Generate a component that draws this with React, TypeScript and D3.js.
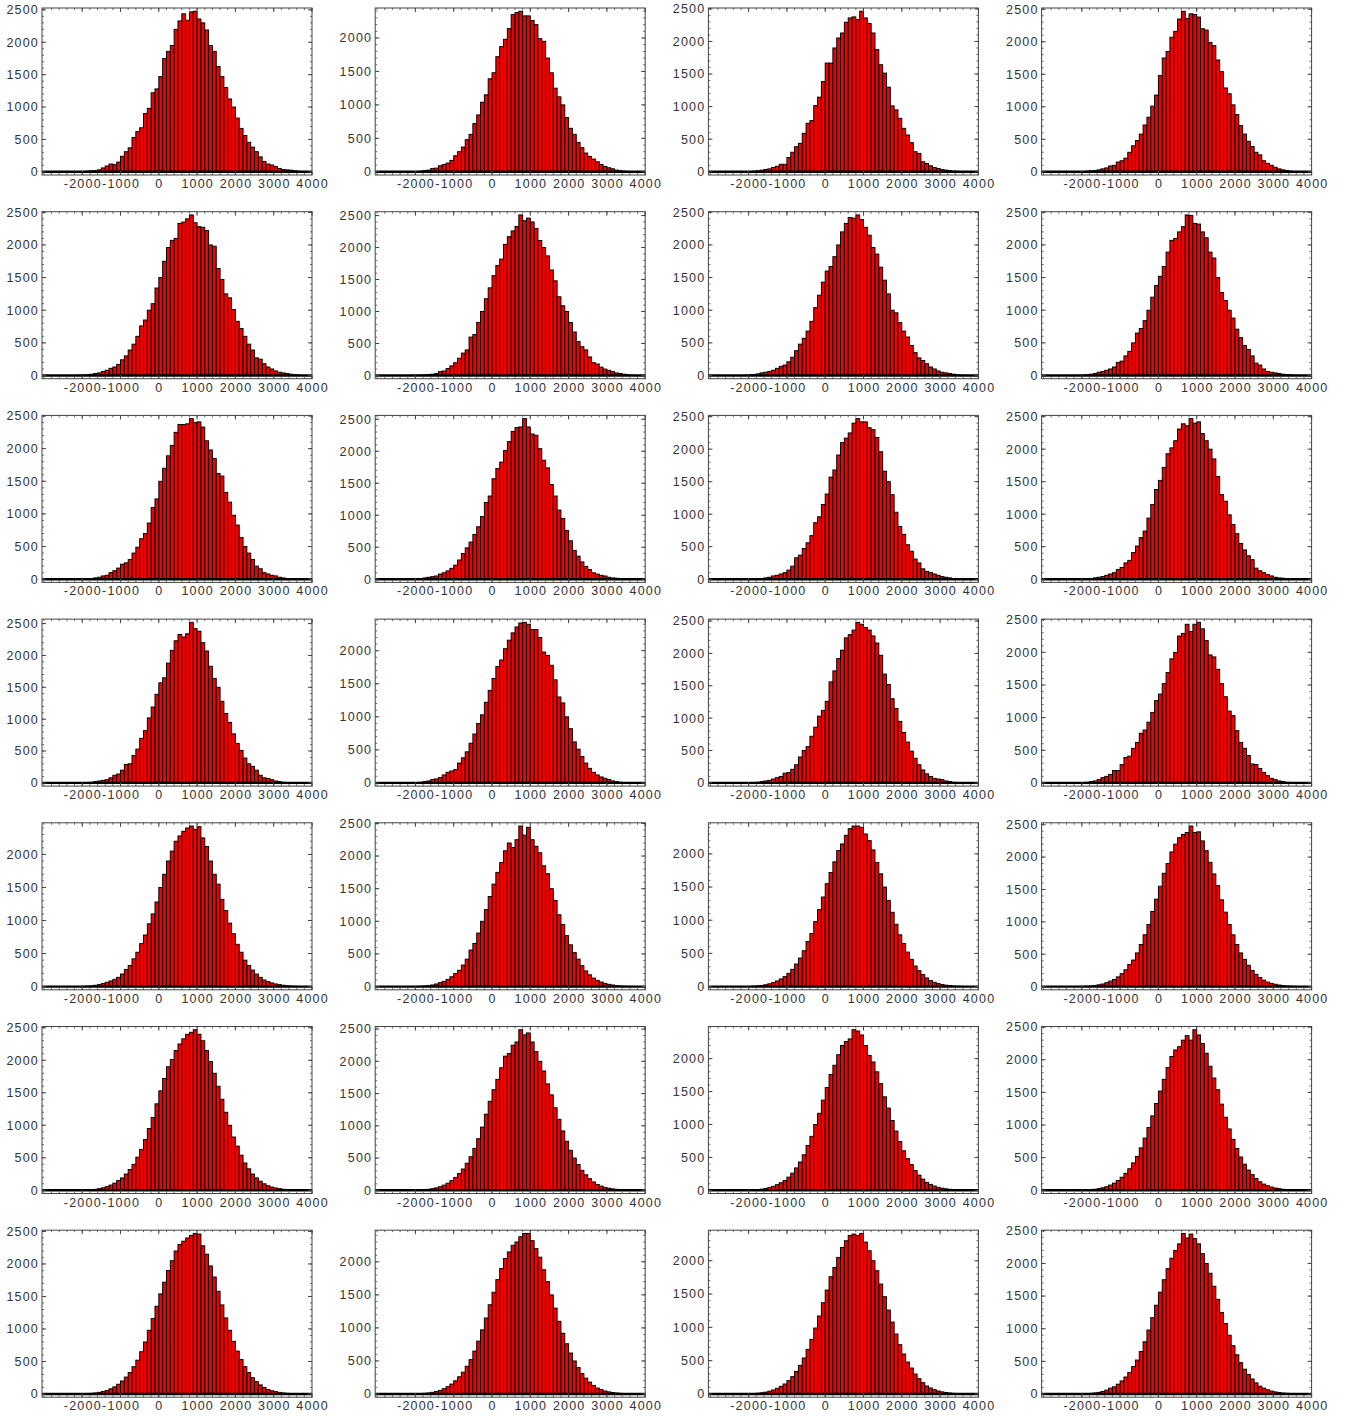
import * as d3 from 'd3'

// histogram bins: left edges, 100 wide
const BIN_WIDTH = 100
const BINS = d3.range(-2100, 3700, BIN_WIDTH)

// counts per bin (row, column)
const h00 = [3, 5, 10, 15, 20, 30, 60, 90, 120, 110,
  150, 240, 310, 370, 530, 620, 680, 900, 980, 1220,
  1280, 1470, 1750, 1860, 1950, 2200, 2330, 2440, 2340, 2470,
  2480, 2360, 2300, 2190, 1950, 1860, 1625, 1470, 1300, 1125,
  1000, 830, 670, 560, 455, 380, 310, 230, 160, 120,
  105, 80, 50, 35, 30, 25, 15, 8]
const h01 = [2, 5, 10, 20, 25, 50, 55, 90, 110, 130,
  170, 240, 300, 370, 480, 560, 720, 850, 1040, 1150,
  1390, 1480, 1720, 1870, 1980, 2140, 2350, 2380, 2400, 2330,
  2330, 2260, 2200, 1990, 1950, 1700, 1480, 1250, 1120, 1000,
  810, 650, 560, 440, 360, 280, 230, 190, 150, 110,
  80, 60, 45, 25, 15, 10, 5, 3]
const h02 = [3, 5, 10, 15, 25, 35, 45, 65, 85, 115,
  115, 220, 300, 385, 436, 590, 744, 785, 1016, 1145,
  1386, 1668, 1668, 1900, 2053, 2130, 2295, 2361, 2377, 2336,
  2464, 2361, 2274, 2130, 1874, 1643, 1514, 1299, 1011, 950,
  821, 667, 565, 447, 308, 282, 154, 128, 92, 67,
  51, 36, 26, 18, 12, 8, 5, 3]
const h03 = [3, 5, 10, 15, 20, 30, 45, 60, 90, 100,
  150, 170, 210, 300, 400, 480, 580, 720, 840, 1010,
  1180, 1480, 1750, 1850, 2070, 2160, 2350, 2470, 2360, 2430,
  2420, 2380, 2200, 2180, 1990, 1940, 1720, 1540, 1290, 1200,
  1030, 880, 710, 580, 470, 390, 300, 260, 170, 130,
  100, 70, 45, 30, 20, 10, 5, 3]
const h10 = [5, 8, 10, 20, 30, 40, 60, 80, 110, 130,
  170, 240, 300, 390, 480, 600, 760, 850, 1000, 1100,
  1340, 1500, 1750, 1960, 2070, 2100, 2330, 2350, 2400, 2460,
  2340, 2280, 2270, 2220, 2000, 1980, 1640, 1470, 1250, 1190,
  1010, 830, 720, 600, 480, 390, 270, 250, 180, 130,
  100, 70, 50, 40, 30, 20, 10, 5]
const h11 = [2, 3, 5, 10, 15, 20, 30, 60, 70, 110,
  150, 200, 270, 350, 400, 600, 640, 830, 1000, 1200,
  1370, 1560, 1720, 1820, 2050, 2170, 2260, 2330, 2510, 2420,
  2460, 2400, 2300, 2110, 2000, 1870, 1650, 1480, 1230, 1090,
  1000, 830, 680, 530, 450, 400, 290, 200, 180, 130,
  100, 80, 60, 40, 30, 20, 10, 5]
const h12 = [5, 10, 15, 25, 40, 50, 60, 80, 110, 140,
  160, 210, 280, 380, 480, 570, 680, 830, 1040, 1230,
  1430, 1600, 1670, 1820, 2000, 2200, 2330, 2420, 2410, 2460,
  2390, 2270, 2150, 1960, 1860, 1660, 1460, 1250, 1000, 960,
  810, 680, 590, 460, 350, 270, 230, 180, 130, 100,
  70, 50, 40, 30, 20, 10, 5, 3]
const h13 = [3, 5, 10, 20, 30, 50, 60, 80, 100, 130,
  200, 220, 300, 370, 500, 650, 720, 840, 1000, 1200,
  1380, 1520, 1670, 1890, 2070, 2100, 2200, 2280, 2460, 2450,
  2330, 2320, 2200, 2110, 1890, 1800, 1500, 1270, 1150, 1000,
  880, 710, 580, 460, 400, 300, 190, 160, 100, 60,
  50, 40, 30, 20, 15, 10, 5, 3]
const h20 = [2, 3, 5, 10, 20, 30, 50, 60, 100, 130,
  170, 230, 250, 300, 400, 490, 620, 700, 860, 1100,
  1230, 1500, 1700, 1890, 2050, 2250, 2370, 2370, 2380, 2460,
  2400, 2410, 2330, 2120, 1980, 1850, 1620, 1580, 1330, 1180,
  980, 830, 640, 500, 400, 300, 200, 160, 100, 80,
  60, 50, 30, 20, 10, 8, 5, 3]
const h21 = [3, 5, 10, 20, 30, 40, 50, 80, 100, 130,
  170, 220, 300, 400, 490, 580, 700, 820, 980, 1200,
  1300, 1570, 1730, 1830, 2010, 2150, 2310, 2370, 2380, 2510,
  2380, 2270, 2250, 2040, 1860, 1740, 1480, 1300, 1080, 950,
  760, 600, 450, 360, 270, 200, 150, 100, 80, 60,
  50, 30, 20, 15, 10, 5, 3, 2]
const h22 = [1, 2, 3, 5, 10, 20, 30, 50, 60, 80,
  100, 140, 200, 330, 370, 470, 560, 670, 870, 960,
  1150, 1310, 1570, 1680, 1910, 2100, 2170, 2250, 2400, 2470,
  2420, 2420, 2330, 2300, 2180, 1960, 1660, 1500, 1300, 1030,
  810, 690, 530, 430, 310, 250, 160, 120, 100, 80,
  60, 40, 30, 20, 10, 5, 3, 2]
const h23 = [2, 3, 5, 10, 20, 30, 40, 60, 80, 100,
  150, 180, 250, 290, 410, 510, 640, 740, 940, 1150,
  1380, 1520, 1720, 1930, 2020, 2130, 2310, 2390, 2360, 2470,
  2400, 2420, 2240, 2130, 2000, 1850, 1580, 1300, 1200, 990,
  840, 700, 550, 450, 360, 300, 170, 130, 100, 70,
  50, 30, 20, 15, 10, 5, 3, 2]
const h30 = [2, 3, 5, 10, 20, 30, 40, 50, 80, 120,
  140, 200, 290, 300, 430, 530, 700, 820, 1020, 1190,
  1390, 1570, 1650, 1880, 2080, 2230, 2330, 2290, 2340, 2520,
  2420, 2380, 2200, 2070, 1830, 1640, 1500, 1280, 1090, 950,
  770, 620, 510, 390, 300, 260, 200, 120, 80, 70,
  50, 30, 20, 10, 5, 3, 2, 1]
const h31 = [3, 5, 10, 20, 30, 50, 60, 80, 120, 160,
  180, 200, 300, 380, 470, 600, 740, 900, 1030, 1220,
  1400, 1580, 1760, 1860, 2030, 2160, 2270, 2360, 2420, 2430,
  2400, 2320, 2320, 2200, 1980, 1930, 1780, 1560, 1300, 1210,
  1000, 820, 620, 510, 400, 300, 220, 160, 120, 90,
  70, 50, 30, 20, 10, 5, 3, 2]
const h32 = [2, 3, 5, 10, 20, 30, 40, 60, 80, 100,
  150, 160, 210, 280, 400, 500, 560, 720, 860, 1030,
  1120, 1260, 1560, 1730, 1920, 2050, 2240, 2290, 2360, 2480,
  2450, 2400, 2360, 2270, 2160, 1970, 1680, 1520, 1300, 1150,
  950, 780, 630, 490, 380, 280, 200, 140, 100, 70,
  60, 50, 30, 20, 10, 5, 3, 2]
const h33 = [3, 5, 10, 20, 30, 50, 80, 100, 130, 190,
  190, 280, 390, 410, 530, 620, 760, 810, 930, 1080,
  1260, 1360, 1520, 1690, 1900, 2000, 2250, 2290, 2430, 2320,
  2430, 2460, 2360, 2180, 1960, 1930, 1740, 1520, 1320, 1100,
  1030, 800, 620, 530, 420, 290, 280, 220, 160, 110,
  70, 50, 30, 20, 10, 5, 3, 2]
const h40 = [2, 4, 8, 12, 20, 30, 45, 65, 85, 110,
  140, 190, 260, 320, 420, 520, 650, 780, 950, 1100,
  1280, 1500, 1700, 1900, 2050, 2200, 2280, 2350, 2400, 2430,
  2380, 2420, 2250, 2120, 1900, 1700, 1550, 1320, 1150, 960,
  800, 640, 520, 400, 320, 250, 190, 140, 100, 75,
  55, 40, 30, 20, 12, 8, 5, 3]
const h41 = [2, 3, 6, 10, 15, 25, 40, 60, 80, 110,
  150, 200, 250, 330, 420, 560, 660, 820, 1000, 1180,
  1380, 1570, 1750, 1900, 2080, 2200, 2130, 2250, 2460, 2320,
  2440, 2250, 2150, 2050, 1850, 1730, 1500, 1320, 1100, 950,
  780, 640, 520, 420, 320, 240, 180, 130, 95, 70,
  50, 35, 25, 15, 10, 6, 4, 2]
const h42 = [2, 4, 7, 12, 18, 28, 42, 60, 85, 115,
  150, 200, 260, 340, 430, 540, 680, 800, 980, 1160,
  1350, 1550, 1720, 1880, 2050, 2150, 2280, 2380, 2420, 2420,
  2400, 2300, 2200, 2060, 1870, 1700, 1500, 1300, 1120, 940,
  780, 650, 520, 410, 310, 240, 180, 130, 90, 65,
  45, 32, 22, 15, 10, 6, 4, 2]
const h43 = [2, 4, 7, 11, 18, 28, 40, 60, 85, 110,
  150, 200, 260, 340, 410, 520, 650, 800, 960, 1160,
  1350, 1550, 1750, 1900, 2080, 2200, 2300, 2350, 2380, 2480,
  2380, 2390, 2250, 2100, 1920, 1740, 1560, 1340, 1150, 960,
  800, 650, 520, 420, 330, 250, 190, 140, 100, 70,
  50, 36, 25, 16, 10, 6, 4, 2]
const h50 = [2, 3, 6, 10, 15, 25, 38, 55, 80, 110,
  150, 190, 250, 320, 400, 510, 630, 780, 950, 1120,
  1330, 1530, 1720, 1900, 2010, 2150, 2250, 2330, 2400, 2430,
  2470, 2400, 2300, 2150, 1980, 1800, 1600, 1400, 1200, 1000,
  820, 680, 540, 420, 330, 250, 190, 140, 100, 70,
  50, 36, 25, 16, 10, 6, 4, 2]
const h51 = [2, 3, 6, 10, 16, 25, 38, 55, 80, 110,
  150, 200, 260, 330, 420, 520, 650, 800, 980, 1180,
  1380, 1560, 1720, 1900, 2080, 2120, 2250, 2300, 2490, 2410,
  2440, 2300, 2150, 2000, 1850, 1650, 1480, 1280, 1100, 920,
  760, 620, 500, 400, 310, 240, 180, 130, 90, 65,
  45, 32, 22, 15, 10, 6, 4, 2]
const h52 = [2, 4, 7, 12, 18, 28, 42, 60, 85, 115,
  150, 200, 260, 340, 430, 540, 680, 820, 1000, 1170,
  1370, 1560, 1760, 1900, 2060, 2200, 2260, 2300, 2440, 2420,
  2360, 2200, 2050, 1950, 1800, 1620, 1420, 1250, 1060, 900,
  740, 600, 480, 390, 300, 230, 170, 120, 90, 65,
  45, 32, 22, 15, 10, 6, 4, 2]
const h53 = [2, 3, 6, 10, 16, 25, 38, 55, 80, 110,
  150, 200, 260, 330, 420, 520, 650, 800, 960, 1140,
  1330, 1520, 1700, 1880, 2050, 2150, 2200, 2300, 2370, 2300,
  2460, 2380, 2250, 2100, 1900, 1720, 1540, 1320, 1120, 940,
  780, 640, 510, 400, 310, 240, 180, 130, 95, 70,
  50, 35, 25, 16, 10, 6, 4, 2]
const h60 = [2, 3, 6, 10, 16, 25, 38, 55, 80, 110,
  150, 200, 260, 330, 420, 520, 650, 800, 980, 1160,
  1350, 1540, 1720, 1900, 2050, 2200, 2300, 2350, 2400, 2440,
  2470, 2460, 2280, 2150, 1970, 1800, 1580, 1370, 1170, 980,
  810, 660, 530, 420, 330, 250, 190, 140, 100, 70,
  50, 36, 25, 16, 10, 6, 4, 2]
const h61 = [2, 3, 6, 10, 16, 25, 38, 55, 80, 110,
  150, 200, 260, 330, 420, 520, 650, 800, 970, 1150,
  1350, 1540, 1730, 1900, 2050, 2150, 2250, 2300, 2380, 2430,
  2430, 2320, 2200, 2070, 1880, 1700, 1500, 1300, 1100, 920,
  760, 620, 500, 400, 310, 240, 180, 130, 90, 65,
  45, 32, 22, 15, 10, 6, 4, 2]
const h62 = [2, 4, 7, 12, 18, 28, 42, 60, 85, 115,
  150, 200, 260, 340, 430, 540, 670, 820, 990, 1170,
  1370, 1560, 1760, 1900, 2050, 2200, 2300, 2380, 2400, 2380,
  2410, 2280, 2150, 2000, 1850, 1650, 1460, 1260, 1080, 900,
  740, 600, 480, 390, 300, 230, 170, 120, 90, 65,
  45, 32, 22, 15, 10, 6, 4, 2]
const h63 = [2, 3, 6, 10, 16, 25, 38, 60, 90, 110,
  150, 200, 260, 330, 420, 520, 650, 800, 980, 1170,
  1360, 1560, 1750, 1920, 2080, 2200, 2300, 2460, 2390, 2450,
  2380, 2300, 2150, 2000, 1850, 1650, 1450, 1250, 1080, 900,
  740, 600, 480, 380, 300, 230, 170, 120, 90, 65,
  45, 32, 22, 15, 10, 6, 4, 2]

const PANELS = [
  h00, h01, h02, h03,
  h10, h11, h12, h13,
  h20, h21, h22, h23,
  h30, h31, h32, h33,
  h40, h41, h42, h43,
  h50, h51, h52, h53,
  h60, h61, h62, h63,
]

const X_TICKS = [-2000, -1000, 0, 1000, 2000, 3000, 4000]
const Y_TICKS = [0, 500, 1000, 1500, 2000, 2500]

const WIDTH = 1352
const HEIGHT = 1416
const COLS = 4
const FRAME = { left: 42, top: 8, dx: 333.2, dy: 203.7, w: 270, h: 167 }
const X_DOMAIN: [number, number] = [-3050, 4000]
const FONT = '"Liberation Sans", Arial, sans-serif'
const BAR_FILL = '#f00000'
const INK = '#444'

function Panel({ counts }: { counts: number[] }) {
  const max = d3.max(counts) ?? 1
  const pad = max * 0.02
  const x = d3.scaleLinear().domain(X_DOMAIN).range([0, FRAME.w])
  const y = d3.scaleLinear().domain([-pad, max + pad]).range([FRAME.h, 0])
  const [y0, y1] = y.domain()

  const xMinor = d3.range(-3000, 4001, 200).filter((v) => v >= X_DOMAIN[0] && v <= X_DOMAIN[1])
  const yMinor = d3.range(0, y1, 100)
  const yMajor = Y_TICKS.filter((v) => v >= y0 && v <= y1)

  return (
    <g>
      {counts.map((c, i) => (
        <rect
          key={i}
          x={x(BINS[i])}
          y={y(c)}
          width={x(BINS[i] + BIN_WIDTH) - x(BINS[i])}
          height={y(0) - y(c)}
          fill={BAR_FILL}
          stroke="#000"
          strokeWidth={0.95}
        />
      ))}
      <line x1={0} x2={FRAME.w} y1={y(0)} y2={y(0)} stroke="#000" strokeWidth={2.4} />

      {/* frame */}
      <rect x={0} y={0} width={FRAME.w} height={FRAME.h} fill="none" stroke={INK} strokeWidth={1} />

      {/* minor ticks */}
      {xMinor.map((v) => (
        <g key={'xm' + v} stroke={INK} strokeWidth={0.8}>
          <line x1={x(v)} x2={x(v)} y1={FRAME.h} y2={FRAME.h - 2} />
          <line x1={x(v)} x2={x(v)} y1={0} y2={2} />
        </g>
      ))}
      {yMinor.map((v) => (
        <g key={'ym' + v} stroke={INK} strokeWidth={0.8}>
          <line x1={0} x2={2} y1={y(v)} y2={y(v)} />
          <line x1={FRAME.w} x2={FRAME.w - 2} y1={y(v)} y2={y(v)} />
        </g>
      ))}

      {/* major ticks + labels */}
      {X_TICKS.map((v) => (
        <g key={'x' + v}>
          <line x1={x(v)} x2={x(v)} y1={FRAME.h} y2={FRAME.h - 4} stroke={INK} />
          <line x1={x(v)} x2={x(v)} y1={0} y2={4} stroke={INK} />
          <text
            x={x(v) + 0.6}
            y={FRAME.h + 13}
            textAnchor="middle"
            fontSize={12.5}
            letterSpacing={1.2}
            fontFamily={FONT}
            fill="#333"
          >
            {v}
          </text>
        </g>
      ))}
      {yMajor.map((v) => (
        <g key={'y' + v}>
          <line x1={0} x2={4} y1={y(v)} y2={y(v)} stroke={INK} />
          <line x1={FRAME.w} x2={FRAME.w - 4} y1={y(v)} y2={y(v)} stroke={INK} />
          <text
            x={-3}
            y={y(v)}
            dy="0.35em"
            textAnchor="end"
            fontSize={12.5}
            letterSpacing={1.2}
            fontFamily={FONT}
            fill="#333"
          >
            {v}
          </text>
        </g>
      ))}
    </g>
  )
}

export default function App() {
  return (
    <svg
      width={WIDTH}
      height={HEIGHT}
      style={{ position: 'absolute', left: 0, top: 0, background: '#fff' }}
    >
      {PANELS.map((counts, i) => {
        const col = i % COLS
        const row = Math.floor(i / COLS)
        const tx = FRAME.left + col * FRAME.dx
        const ty = FRAME.top + row * FRAME.dy
        return (
          <g key={i} transform={`translate(${tx},${ty})`}>
            <Panel counts={counts} />
          </g>
        )
      })}
    </svg>
  )
}
